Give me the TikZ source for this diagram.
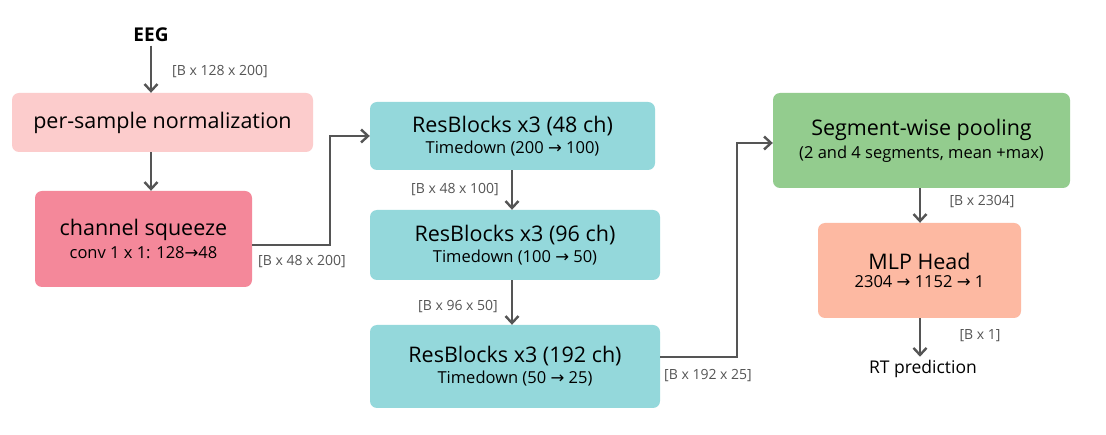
\documentclass[tikz,border=0pt]{standalone}
\usepackage{fontspec}
\setmainfont{Open Sans}
\newfontfamily\arrfont{DejaVu Sans}
\newcommand\rarr{{\arrfont →}}
\usetikzlibrary{arrows.meta}
\definecolor{ln}{HTML}{555555}
\tikzset{
 box/.style={draw=none,rounded corners=7pt,inner sep=0pt,align=center},
 con/.style={draw=ln,line width=2.4pt,-{Straight Barb[length=7pt,width=13pt]}},
 lab/.style={text=ln,font=\fontsize{14}{16}\selectfont,inner sep=1pt},
}
\begin{document}
\begin{tikzpicture}[x=1pt,y=-1pt]
\useasboundingbox (0,0) rectangle (1106,435);
\fill[white] (0,0) rectangle (1106,435);
\node[font=\fontsize{19}{22}\selectfont\bfseries] (eeg) at (151,35) {EEG};
\node[box,fill={rgb,255:red,252;green,204;blue,204},minimum width=301pt,minimum height=59pt] (norm) at (162.5,122.5) {\fontsize{21.5}{25}\selectfont per-sample normalization};
\node[box,fill={rgb,255:red,244;green,136;blue,154},minimum width=217pt,minimum height=96pt] (sq) at (143.5,239) {\shortstack{{\fontsize{21.5}{25}\selectfont channel squeeze}\\[2pt]{\fontsize{16.5}{19}\selectfont conv 1 x 1: 128\rarr48}}};
\node[box,fill={rgb,255:red,148;green,216;blue,219},minimum width=285pt,minimum height=68pt] (r1) at (512.5,136) {\shortstack{{\fontsize{21.5}{25}\selectfont ResBlocks x3 (48 ch)}\\[2pt]{\fontsize{16.5}{19}\selectfont Timedown (200 \rarr\ 100)}}};
\node[box,fill={rgb,255:red,148;green,216;blue,219},minimum width=290pt,minimum height=70pt] (r2) at (515,245) {\shortstack{{\fontsize{21.5}{25}\selectfont ResBlocks x3 (96 ch)}\\[2pt]{\fontsize{16.5}{19}\selectfont Timedown (100 \rarr\ 50)}}};
\node[box,fill={rgb,255:red,148;green,216;blue,219},minimum width=290pt,minimum height=83pt] (r3) at (515,366.5) {\shortstack{{\fontsize{21.5}{25}\selectfont ResBlocks x3 (192 ch)}\\[2pt]{\fontsize{16.5}{19}\selectfont Timedown (50 \rarr\ 25)}}};
\node[box,fill={rgb,255:red,147;green,204;blue,142},minimum width=297pt,minimum height=95pt] (seg) at (921.5,140.5) {\shortstack{{\fontsize{21.5}{25}\selectfont Segment-wise pooling}\\[2pt]{\fontsize{16.5}{19}\selectfont (2 and 4 segments, mean +max)}}};
\node[box,fill={rgb,255:red,253;green,185;blue,162},minimum width=203pt,minimum height=95pt] (mlp) at (919.5,270.5) {\shortstack{{\fontsize{21.5}{25}\selectfont MLP Head}\\[2pt]{\fontsize{16.5}{19}\selectfont 2304 \rarr\ 1152 \rarr\ 1}}};
\node[font=\fontsize{17.5}{20}\selectfont] (rt) at (923,369) {RT prediction};
\coordinate (a1) at (330,245); \coordinate (a2) at (330,136);
\coordinate (b1) at (737,357); \coordinate (b2) at (737,143);
\draw[con] (eeg.south -| 151,0) -- (norm.north -| 151,0);
\draw[con] (norm.south -| 151,0) -- (sq.north -| 151,0);
\draw[con] (sq.east |- a1) -- (a1) -- (a2) -- (r1.west |- a2);
\draw[con] (r1.south -| 512,0) -- (r2.north -| 512,0);
\draw[con] (r2.south -| 512,0) -- (r3.north -| 512,0);
\draw[con] (r3.east |- b1) -- (b1) -- (b2) -- (seg.west |- b2);
\draw[con] (seg.south -| 920,0) -- (mlp.north -| 920,0);
\draw[con] (mlp.south -| 920,0) -- (rt.north -| 920,0);
\node[lab] (l1) at (220,72) {[B x 128 x 200]};
\node[lab] (l2) at (302,262) {[B x 48 x 200]};
\node[lab] (l3) at (455,190) {[B x 48 x 100]};
\node[lab] (l4) at (458,307) {[B x 96 x 50]};
\node[lab] (l5) at (708,376) {[B x 192 x 25]};
\node[lab] (l6) at (982,202) {[B x 2304]};
\node[lab] (l7) at (980,336) {[B x 1]};
\end{tikzpicture}
\end{document}
